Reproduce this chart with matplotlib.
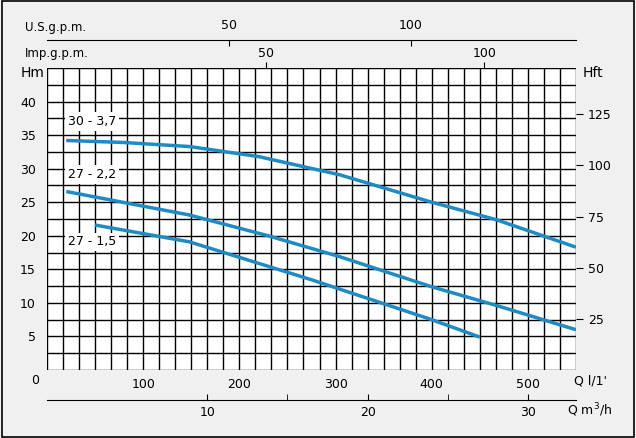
import matplotlib
matplotlib.use("Agg")
import matplotlib.pyplot as plt
import numpy as np

plt.rcParams['font.family'] = ['DejaVu Sans']
q_337 = [20, 80, 148, 220, 304, 400, 467, 550]
h_337 = [34.2, 33.9, 33.3, 31.8, 29.1, 25.0, 22.4, 18.3]
q_222 = [20, 148, 230, 304, 400, 470, 550]
h_222 = [26.6, 23.1, 20.0, 16.9, 12.4, 9.5, 6.0]
q_215 = [50, 148, 276, 400, 450]
h_215 = [21.6, 19.1, 13.4, 7.5, 4.9]
labels = ["30 - 3,7", "27 - 2,2", "27 - 1,5"]
label_y = [37.0, 29.1, 19.1]
hft_ticks = [25, 50, 75, 100, 125]
col = '#1f8bc4'

fig = plt.figure(figsize=(6.36, 4.38), dpi=100, facecolor='#f0f0f0')
fig.patches.append(plt.Rectangle((0.003, 0.003), 0.994, 0.994, transform=fig.transFigure,
                                 fill=False, ec='black', lw=1.2))
ax = fig.add_axes([47/636, 1-370/438, 529/636, 302/438])
ax.set_facecolor('white')
ax.set_xlim(0, 550)
ax.set_ylim(0, 45)
for v in np.arange(0, 551, 1000/60):
    ax.axvline(v, color='black', lw=1)
for v in np.arange(0, 45.1, 2.5):
    ax.axhline(v, color='black', lw=1)
for q, h in [(q_337, h_337), (q_222, h_222), (q_215, h_215)]:
    ax.plot(q, h, color=col, lw=2.5, solid_capstyle='butt')
for t, y in zip(labels, label_y):
    ax.text(22, y, t, fontsize=9, va='center', ha='left',
            bbox=dict(fc='white', ec='none', pad=2))
for s in ax.spines.values():
    s.set_visible(False)
ax.set_xticks([100, 200, 300, 400, 500])
ax.tick_params(axis='x', length=0, pad=6, labelsize=9)
ax.set_yticks([5, 10, 15, 20, 25, 30, 35, 40])
ax.tick_params(axis='y', length=0, pad=8, labelsize=9)
fig.text(35/636, 1-381/438, "0", fontsize=9, ha='center', va='center')
fig.text(33/636, 1-73/438, "Hm", fontsize=10, ha='center', va='center')
fig.text(593/636, 1-73/438, "Hft", fontsize=10, ha='center', va='center')
fig.text(590/636, 1-381/438, "Q l/1'", fontsize=9, ha='center', va='center')
fig.text(25/636, 1-27/438, "U.S.g.p.m.", fontsize=8.5, ha='left', va='center')
fig.text(25/636, 1-54/438, "Imp.g.p.m.", fontsize=8.5, ha='left', va='center')
fig.text(590/636, 1-410/438, "Q m$^3$/h", fontsize=9, ha='center', va='center')

ft = ax.secondary_yaxis('right', functions=(lambda m: m/0.3048, lambda f: f*0.3048))
ft.set_yticks(hft_ticks)
ft.tick_params(length=5, labelsize=9, direction='out')
ft.spines['right'].set_visible(False)

imp = ax.secondary_xaxis('top', functions=(lambda l: l/4.546, lambda g: g*4.546))
imp.set_xticks([50, 100])
imp.tick_params(length=4, labelsize=9, pad=2)
imp.spines['top'].set_visible(False)

us = ax.secondary_xaxis(1.0 + 28/302, functions=(lambda l: l/3.785, lambda g: g*3.785))
us.set_xticks([50, 100])
us.tick_params(direction='in', length=4, labelsize=9, pad=6)

m3 = ax.secondary_xaxis(-30/302, functions=(lambda l: l*0.06, lambda m: m/0.06))
m3.set_xticks([10, 20, 30])
m3.set_xticks([15, 25], minor=True)
m3.tick_params(direction='in', length=4, labelsize=9, pad=4)
m3.tick_params(which='minor', direction='in', length=4)

fig.savefig("out.png", dpi=100, facecolor=fig.get_facecolor())
